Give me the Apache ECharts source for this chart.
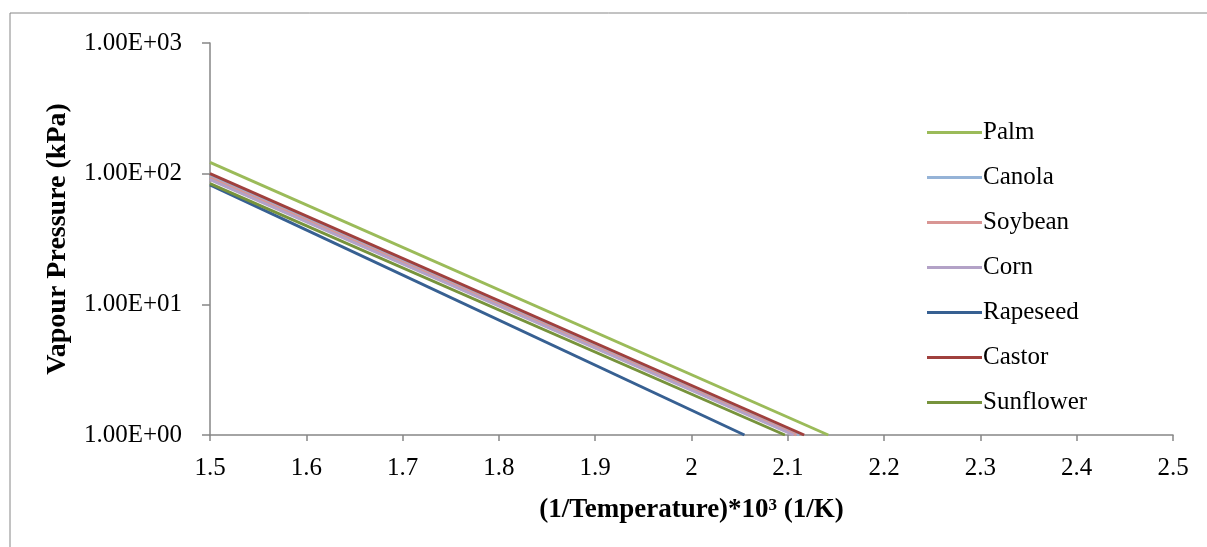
<!DOCTYPE html>
<html>
<head>
<meta charset="utf-8">
<script src="https://cdn.jsdelivr.net/npm/echarts@6/dist/echarts.min.js"></script>
<style>html,body{margin:0;padding:0;background:#fff}#c{width:1207px;height:547px}</style>
</head>
<body>
<div id="c"></div>
<script>
const seriesNames = ['Palm','Canola','Soybean','Corn','Rapeseed','Castor','Sunflower'];
const seriesColors = ['#9BBB59','#95B3D7','#D99694','#B3A2C7','#376092','#A0403D','#77933C'];
// each series: [x, vapour pressure] at start and where it reaches 1 kPa
const palm = [[1.5, 122], [2.142, 1]];
const canola = [[1.5, 96], [2.112, 1]];
const soybean = [[1.5, 93], [2.109, 1]];
const corn = [[1.5, 90], [2.106, 1]];
const rapeseed = [[1.5, 82], [2.055, 1]];
const castor = [[1.5, 100], [2.117, 1]];
const sunflower = [[1.5, 84], [2.097, 1]];
const seriesData = [palm, canola, soybean, corn, rapeseed, castor, sunflower];

const chart = echarts.init(document.getElementById('c'));
const font = '"Liberation Serif", "Times New Roman", serif';
function fmtExp(v){
  const s = Number(v).toExponential(2).toUpperCase();
  return s.replace(/E([+-])(\d)$/, 'E$10$2');
}
chart.setOption({
  animation: false,
  textStyle: {fontFamily: font},
  graphic: [
    {type:'line', shape:{x1:10, y1:13, x2:1207, y2:13}, style:{stroke:'#868686', lineWidth:1}},
    {type:'line', shape:{x1:10, y1:13, x2:10, y2:547}, style:{stroke:'#868686', lineWidth:1}}
  ],
  grid: {left: 210, right: 34, top: 43, bottom: 112, containLabel: false},
  legend: {
    orient: 'vertical', left: 922, top: 115,
    icon: 'rect', itemWidth: 55, itemHeight: 3, itemGap: 20,
    textStyle: {fontFamily: font, fontSize: 25, color: '#000', padding:[0,0,0,-4]},
    data: seriesNames
  },
  xAxis: {
    type: 'value', min: 1.5, max: 2.5, interval: 0.1,
    name: '(1/Temperature)*10{s|3} (1/K)', nameLocation: 'middle', nameGap: 62,
    nameTextStyle: {fontFamily: font, fontSize: 27, fontWeight: 'bold', color: '#000',
      rich: {s: {fontFamily: font, fontSize: 17, fontWeight: 'bold', color: '#000', verticalAlign: 'top', padding: [0,0,8,0]}}},
    axisLine: {show: true, lineStyle: {color: '#868686', width: 1.5}},
    axisTick: {show: true, length: 6, lineStyle: {color: '#868686', width: 1.5}},
    axisLabel: {fontFamily: font, fontSize: 25, color: '#000', margin: 21,
      formatter: v => String(Math.round(v*10)/10)},
    splitLine: {show: false}
  },
  yAxis: {
    type: 'log', logBase: 10, min: 1, max: 1000,
    name: 'Vapour Pressure (kPa)', nameLocation: 'middle', nameGap: 138,
    nameTextStyle: {fontFamily: font, fontSize: 28, fontWeight: 'bold', color: '#000'},
    axisLine: {show: true, lineStyle: {color: '#868686', width: 1.5}},
    axisTick: {show: true, length: 8, lineStyle: {color: '#868686', width: 1.5}},
    axisLabel: {fontFamily: font, fontSize: 25, color: '#000', margin: 28, formatter: fmtExp},
    splitLine: {show: false}
  },
  series: seriesNames.map((n, i) => ({
    name: n, type: 'line', data: seriesData[i], showSymbol: false, symbol: 'none',
    lineStyle: {width: 3, color: seriesColors[i]}, itemStyle: {color: seriesColors[i]},
    clip: true
  }))
});
</script>
</body>
</html>
